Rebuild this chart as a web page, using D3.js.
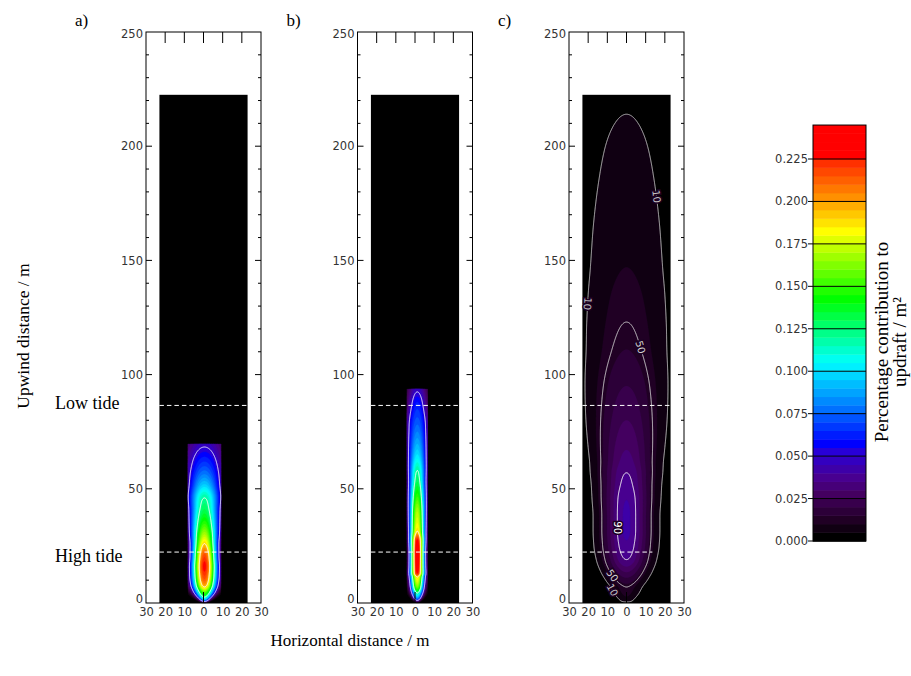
<!DOCTYPE html>
<html>
<head>
<meta charset="utf-8">
<script src="https://d3js.org/d3.v7.min.js"></script>
<style>
  body { margin: 0; background: #fff; }
  .serif { font-family: "Liberation Serif", "Times New Roman", serif; font-size: 17px; fill: #000; }
  .tick text, .tk { font-family: "DejaVu Sans", sans-serif; font-size: 11.5px; fill: #333; }
</style>
</head>
<body>
<svg width="911" height="676"></svg>
<script>
// ---- data ----
var panelLetters = ['a)', 'b)', 'c)']
var xTicks = [-30, -20, -10, 0, 10, 20, 30]
var yTicks = [0, 50, 100, 150, 200, 250]
var cbTicks = [0, 0.025, 0.05, 0.075, 0.1, 0.125, 0.15, 0.175, 0.2, 0.225]
var lowTide = 86.5, highTide = 22.3

// centre-line value (per m2) and cross-wind spread (m) at upwind stations (m)
var aY      = [0,   1,    2.6,  5,    8,   12,   16,    20,   26,   30,   36,    41,   46,   52,    58,    64,    69.6]
var aCentre = [0,   0.07, 0.12, 0.16, 0.2, 0.22, 0.228, 0.22, 0.19, 0.17, 0.145, 0.13, 0.12, 0.095, 0.075, 0.06,  0.047]
var aSigma  = [1.0, 1.8,  2.8,  3.8,  4.3, 4.5,  4.5,   4.4,  4.6,  5.0,  5.5,   5.9,  6.4,  7.0,   8.0,   8.8,   9.4]

var bY      = [0,   2,    4.4,  7,    9,     11.4, 13,    16,    22,   27,   31.5, 35,   40,   48,    53,   58,   65,  75,   80,    88,    93.7]
var bCentre = [0,   0.08, 0.12, 0.16, 0.175, 0.19, 0.225, 0.235, 0.24, 0.23, 0.19, 0.18, 0.17, 0.145, 0.13, 0.12, 0.1, 0.08, 0.072, 0.06,  0.047]
var bSigma  = [0.8, 1.6,  2.2,  2.4,  2.5,   2.6,  2.6,   2.5,   2.45, 2.6,  2.8,  2.9,  3.0,  3.2,   3.3,  3.5,  3.9, 4.5,  4.8,   4.3,   4.2]

var cY      = [0,   0.4,   2,     4,     7,     10,    14,    19,    25,    32,    38,    45,   52,    57,    62,    67,   80,    95,   111,   123,   135,    147,  165,    185,   200,   214,   222.5]
var cCentre = [0,   0.005, 0.009, 0.011, 0.013, 0.018, 0.026, 0.035, 0.039, 0.041, 0.041, 0.04, 0.037, 0.035, 0.032, 0.03, 0.025, 0.02, 0.015, 0.013, 0.0115, 0.01, 0.0085, 0.007, 0.006, 0.005, 0.0045]
var cSigma  = [3.0, 3.3,   4.0,   5.0,   6.0,   6.8,   7.5,   8.0,   8.4,   8.5,   8.5,   8.8,  9.2,   9.6,   10.0,  10.5, 11.8,  13.0, 14.2,  15.0,  15.5,   16.0, 16.8,   17.6,  18.2,  18.8,  19.0]

// contour levels and their labels
var abLevels = [0.05, 0.12, 0.19]
var cLevels = [0.005, 0.013, 0.035]
var cLevelNames = ['10', '50', '90']
var cLabelLevel = [0, 0, 1, 2, 1, 0]
var cLabelY     = [131, 178, 112, 33, 12, 5.7]
var cLabelSide  = [-1, 1, 1, -1, -1, -1]

// colour table (value, colour)
var cStops = [0, 0.01, 0.025, 0.035, 0.05, 0.055, 0.075, 0.1, 0.105, 0.14, 0.18, 0.2, 0.22, 0.225, 0.25]
var cHex = ['#000000', '#200024', '#440060', '#480090', '#2800d8', '#0000ff', '#0070ff', '#00f0ff',
            '#00fff0', '#00ff00', '#ffff00', '#ff9000', '#ff3000', '#ff0000', '#ff0000']
var cbMax = 0.245, step = 0.005

var colour = d3.scaleLinear().domain(cStops).range(cHex).interpolate(d3.interpolateRgb)
var thresholds = d3.range(1, 50).map(function (k) { return k * step })

// monotone cubic through the read stations
function monotone(xs, vs) {
  var n = xs.length, d = [], m = []
  for (var i = 0; i < n - 1; i++) d[i] = (vs[i + 1] - vs[i]) / (xs[i + 1] - xs[i])
  m[0] = d[0]; m[n - 1] = d[n - 2]
  for (i = 1; i < n - 1; i++) {
    if (d[i - 1] * d[i] <= 0) { m[i] = 0; continue }
    var h0 = xs[i] - xs[i - 1], h1 = xs[i + 1] - xs[i]
    var w1 = 2 * h1 + h0, w2 = h1 + 2 * h0
    m[i] = (w1 + w2) / (w1 / d[i - 1] + w2 / d[i])
  }
  return function (t) {
    if (t <= xs[0]) return vs[0]
    if (t >= xs[n - 1]) return vs[n - 1]
    var k = d3.bisectRight(xs, t) - 1, h = xs[k + 1] - xs[k], s = (t - xs[k]) / h
    var s2 = s * s, s3 = s2 * s
    return (2 * s3 - 3 * s2 + 1) * vs[k] + (s3 - 2 * s2 + s) * h * m[k] +
      (-2 * s3 + 3 * s2) * vs[k + 1] + (s3 - s2) * h * m[k + 1]
  }
}

var svg = d3.select('svg')

var panels = [
  { ys: aY, centre: aCentre, sigma: aSigma, hw: 8.6, shift: 0.5, top: 69.6, levels: abLevels,
    lineCol: ['#eeeeff', '#ffffff', '#ffffff'], tides: [[-23, 23], [-23, 23]] },
  { ys: bY, centre: bCentre, sigma: bSigma, hw: 5.4, shift: 1.2, top: 93.7, levels: abLevels,
    lineCol: ['#eeeeff', '#ffffff', '#ffffff'], tides: [[-23, 23], [-23, 23]] },
  { ys: cY, centre: cCentre, sigma: cSigma, hw: 23, shift: 0, top: 222.5, levels: cLevels,
    lineCol: ['#c4c4c4', '#d4d4d4', '#ffffff'], tides: [[-23, 23], [-23, 13.5]] }
]

var boxW = 115, plotTop = 32, plotBottom = 603

panels.forEach(function (p, k) {
  var left = 146 + k * 211.5
  var x = d3.scaleLinear().domain([-30, 30]).range([left, left + boxW])
  var y = d3.scaleLinear().domain([0, 250]).range([plotBottom, plotTop])
  var A = monotone(p.ys, p.centre)
  var S = monotone(p.ys, p.sigma)
  function f(xm, ym) { var s = S(ym); return Math.max(0, A(ym)) * Math.exp(-xm * xm / (2 * s * s)) }

  var g = svg.append('g')

  // black background of the model domain
  g.append('rect')
    .attr('x', x(-23)).attr('y', y(222.5))
    .attr('width', x(23) - x(-23)).attr('height', y(0) - y(222.5))
    .attr('fill', '#000')

  // grid over the computed area
  var x0 = p.shift - p.hw, x1 = p.shift + p.hw
  var dxm = 0.15, dym = 0.25
  var nx = Math.round((x1 - x0) / dxm) + 1, ny = Math.round(p.top / dym) + 1
  dxm = (x1 - x0) / (nx - 1); dym = p.top / (ny - 1)
  var vals = new Float64Array(nx * ny)
  for (var j = 0; j < ny; j++) {
    for (var i = 0; i < nx; i++) vals[j * nx + i] = f(x0 + i * dxm - p.shift, j * dym)
  }
  var proj = d3.geoTransform({
    point: function (cx, cy) {
      var xm = Math.max(x0, Math.min(x1, x0 + (cx - 0.5) * dxm))
      var ym = Math.max(0, Math.min(p.top, (cy - 0.5) * dym))
      this.stream.point(x(xm), y(ym))
    }
  })
  var path = d3.geoPath(proj)

  var bands = d3.contours().size([nx, ny]).thresholds(thresholds)(vals)
  g.append('g').selectAll('path').data(bands).enter().append('path')
    .attr('d', path)
    .attr('fill', function (d) { return colour(d.value) })
    .attr('stroke', function (d) { return colour(d.value) })
    .attr('stroke-width', 0.3)

  var lines = d3.contours().size([nx, ny]).thresholds(p.levels)(vals)
  g.append('g').selectAll('path').data(lines).enter().append('path')
    .attr('d', path)
    .attr('fill', 'none')
    .attr('stroke', function (d, i) { return p.lineCol[i] })
    .attr('stroke-width', 1)

  // contour labels (panel c)
  if (k === 2) {
    cLabelY.forEach(function (ym, n) {
      var L = p.levels[cLabelLevel[n]], side = cLabelSide[n]
      function xAt(yy) { var a = A(yy); return a > L ? side * S(yy) * Math.sqrt(2 * Math.log(a / L)) : 0 }
      var px = x(xAt(ym)), py = y(ym)
      var ddx = x(xAt(ym - 0.5)) - x(xAt(ym + 0.5)), ddy = y(ym - 0.5) - y(ym + 0.5)
      var ang = Math.atan2(ddy, ddx) * 180 / Math.PI
      g.append('text')
        .attr('transform', 'translate(' + px + ',' + py + ') rotate(' + ang + ')')
        .attr('text-anchor', 'middle').attr('dy', '0.35em')
        .attr('font-family', 'DejaVu Sans, sans-serif').attr('font-size', 10)
        .attr('fill', p.lineCol[cLabelLevel[n]])
        .attr('stroke', '#1c0022').attr('stroke-width', 3).attr('paint-order', 'stroke')
        .text(cLevelNames[cLabelLevel[n]])
    })
  }

  // tide lines
  ;[lowTide, highTide].forEach(function (t, n) {
    g.append('line')
      .attr('x1', x(p.tides[n][0])).attr('x2', x(p.tides[n][1]))
      .attr('y1', y(t)).attr('y2', y(t))
      .attr('stroke', '#fff').attr('stroke-width', 1).attr('stroke-dasharray', '4.5,3')
  })

  // frame and ticks
  g.append('rect').attr('x', x(-30)).attr('y', y(250)).attr('width', boxW).attr('height', plotBottom - plotTop)
    .attr('fill', 'none').attr('stroke', '#000')
  var tk = g.append('g').attr('stroke', '#000').attr('stroke-width', 1)
  xTicks.slice(1, -1).forEach(function (v) {
    tk.append('line').attr('x1', x(v)).attr('x2', x(v)).attr('y1', y(250)).attr('y2', y(250) + 11)
    tk.append('line').attr('x1', x(v)).attr('x2', x(v)).attr('y1', y(0)).attr('y2', y(0) - 11)
  })
  d3.range(10, 250, 10).forEach(function (v) {
    var len = v % 50 === 0 ? 6 : 3
    tk.append('line').attr('x1', x(-30)).attr('x2', x(-30) + len).attr('y1', y(v)).attr('y2', y(v))
    tk.append('line').attr('x1', x(30)).attr('x2', x(30) - len).attr('y1', y(v)).attr('y2', y(v))
  })

  var ax = g.append('g').attr('transform', 'translate(0,' + plotBottom + ')')
    .call(d3.axisBottom(x).tickValues(xTicks).tickSize(0).tickPadding(5).tickFormat(function (d) { return Math.abs(d) }))
  ax.select('.domain').remove()
  var ay = g.append('g').attr('transform', 'translate(' + left + ',0)')
    .call(d3.axisLeft(y).tickValues(yTicks).tickSize(0).tickPadding(3))
  ay.select('.domain').remove()
  // end labels sit inside the axis range
  ay.selectAll('.tick text').attr('y', function (d) { return d === 0 ? -4 : d === 250 ? 2 : 0 })
  svg.selectAll('.tick text').attr('font-family', null).attr('font-size', null)

  svg.append('text').attr('class', 'serif').attr('x', left - 71).attr('y', 26).text(panelLetters[k])
})

// tide names and axis titles
svg.append('text').attr('class', 'serif').attr('x', 55).attr('y', 409).style('font-size', '18px').text('Low tide')
svg.append('text').attr('class', 'serif').attr('x', 55).attr('y', 562).style('font-size', '18px').text('High tide')
svg.append('text').attr('class', 'serif').attr('text-anchor', 'middle').style('font-size', '17.5px')
  .attr('transform', 'translate(29,336) rotate(-90)').text('Upwind distance / m')
svg.append('text').attr('class', 'serif').attr('text-anchor', 'middle')
  .attr('x', 350).attr('y', 646).text('Horizontal distance / m')

// colour bar
var cb = d3.scaleLinear().domain([0, 0.225]).range([541, 159])
var cbX = 813, cbW = 53
var cbg = svg.append('g')
cbg.selectAll('rect').data(d3.range(0, 49).map(function (k) { return k * step })).enter().append('rect')
  .attr('x', cbX).attr('width', cbW)
  .attr('y', function (d) { return cb(Math.min(d + step, cbMax)) })
  .attr('height', function (d) { return cb(d) - cb(Math.min(d + step, cbMax)) + 0.4 })
  .attr('fill', function (d) { return colour(d) })
cbg.selectAll('line').data(cbTicks).enter().append('line')
  .attr('x1', cbX - 5).attr('x2', cbX + cbW).attr('y1', function (d) { return cb(d) }).attr('y2', function (d) { return cb(d) })
  .attr('stroke', '#000')
cbg.append('rect').attr('x', cbX).attr('y', cb(cbMax)).attr('width', cbW).attr('height', cb(0) - cb(cbMax))
  .attr('fill', 'none').attr('stroke', '#000')
cbg.selectAll('text').data(cbTicks).enter().append('text').attr('class', 'tk')
  .attr('x', cbX - 5).attr('y', function (d) { return cb(d) }).attr('dy', '0.35em').attr('text-anchor', 'end')
  .text(function (d) { return d3.format('.3f')(d) })
svg.append('text').attr('class', 'serif').attr('text-anchor', 'middle').style('font-size', '19px')
  .attr('transform', 'translate(888,342) rotate(-90)').text('Percentage contribution to')
svg.append('text').attr('class', 'serif').attr('text-anchor', 'middle').style('font-size', '19px')
  .attr('transform', 'translate(906,342) rotate(-90)').text('updraft / m²')
</script>
</body>
</html>
